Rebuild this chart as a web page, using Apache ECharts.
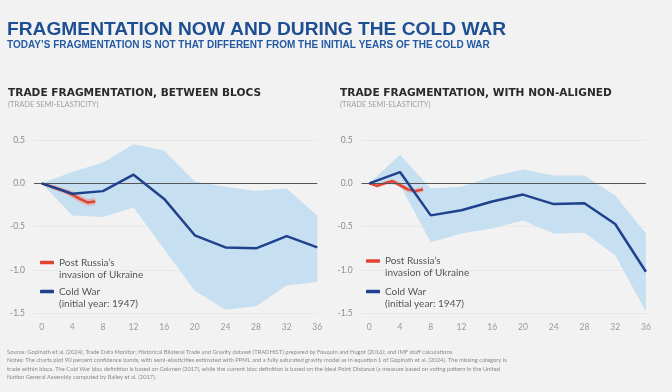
<!DOCTYPE html>
<html lang="en">
<head>
    <meta charset="UTF-8">
    <title>Fragmentation now and during the Cold War</title>
    <script src="https://cdn.jsdelivr.net/npm/echarts@6.0.0/dist/echarts.min.js"></script>
    <style>
        body { margin: 0; padding: 0; background: #f2f2f2; }
        #chart { width: 672px; height: 392px; }
    </style>
</head>
<body>
    <div id="chart"></div>
    <script>
        // years since start (Cold War: 1947 = 0)
        const years = [0, 4, 8, 12, 16, 20, 24, 28, 32, 36];
        const xTicks = [0, 4, 8, 12, 16, 20, 24, 28, 32, 36];

        // between blocs
        const blocsCold  = [0, -0.12, -0.09, 0.10, -0.18, -0.60, -0.74, -0.75, -0.61, -0.74];
        const blocsUpper = [0, 0.13, 0.24, 0.45, 0.38, 0.02, -0.04, -0.09, -0.06, -0.37];
        const blocsLower = [0, -0.37, -0.39, -0.28, -0.76, -1.24, -1.46, -1.42, -1.18, -1.14];

        // with non-aligned
        const nonCold  = [0, 0.13, -0.37, -0.31, -0.21, -0.13, -0.24, -0.23, -0.47, -1.02];
        const nonUpper = [0, 0.33, -0.06, -0.04, 0.08, 0.16, 0.09, 0.09, -0.14, -0.58];
        const nonLower = [0, -0.02, -0.68, -0.58, -0.52, -0.43, -0.58, -0.57, -0.83, -1.48];

        // post Russia's invasion of Ukraine (annual)
        const recentYears = [0, 1, 2, 3, 4, 5, 6, 7];
        const blocsNow   = [0, -0.03, -0.06, -0.09, -0.13, -0.18, -0.22, -0.21];
        const blocsNowHi = [0, -0.01, -0.03, -0.06, -0.09, -0.14, -0.18, -0.17];
        const blocsNowLo = [0, -0.05, -0.09, -0.12, -0.17, -0.22, -0.26, -0.25];
        const nonNow   = [0, -0.03, 0.00, 0.025, -0.02, -0.07, -0.09, -0.07];
        const nonNowHi = [0, -0.01, 0.02, 0.05, 0.01, -0.04, -0.06, -0.04];
        const nonNowLo = [0, -0.05, -0.02, 0.00, -0.05, -0.10, -0.12, -0.10];

        const RED = 'Post Russia\u2019s invasion of Ukraine';
        const BLUE = 'Cold War (initial year: 1947)';
        const legendText = {};
        legendText[RED] = '\nPost Russia\u2019s\ninvasion of Ukraine';
        legendText[BLUE] = '\nCold War\n(initial year: 1947)';

        const chart = echarts.init(document.getElementById('chart'));
        const FONT = 'Lato, "Noto Sans", sans-serif';
        const HEAD = '"Liberation Sans Narrow", "Liberation Sans", Arial, sans-serif';
        const PANEL = '"DejaVu Sans", Lato, sans-serif';

        function band(xs, lo, hi, color, idx) {
            return {
                type: 'custom',
                xAxisIndex: idx,
                yAxisIndex: idx,
                silent: true,
                data: xs.map((x, i) => [x, lo[i], hi[i]]),
                encode: { x: 0, y: [1, 2] },
                renderItem: function (params, api) {
                    if (params.dataIndex !== 0) return null;
                    const top = xs.map((x, i) => api.coord([x, hi[i]]));
                    const bottom = xs.map((x, i) => api.coord([x, lo[i]])).reverse();
                    return {
                        type: 'polygon',
                        shape: { points: top.concat(bottom) },
                        style: { fill: color }
                    };
                }
            };
        }

        function line(name, xs, ys, color, idx, z) {
            return {
                type: 'line',
                name: name,
                xAxisIndex: idx,
                yAxisIndex: idx,
                data: xs.map((x, i) => [x, ys[i]]),
                showSymbol: false,
                color: color,
                lineStyle: { color: color, width: 2.5 },
                z: z
            };
        }

        function zeroLine(idx) {
            return {
                type: 'line',
                xAxisIndex: idx,
                yAxisIndex: idx,
                data: [],
                z: 3,
                markLine: {
                    silent: true,
                    symbol: 'none',
                    label: { show: false },
                    lineStyle: { color: '#555', width: 1, type: 'solid' },
                    data: [{ yAxis: 0 }]
                }
            };
        }

        const grids = [
            { left: 34, top: 140, width: 283.3, height: 173.3 },
            { left: 361.6, top: 140, width: 284.3, height: 173.3 }
        ];

        const xAxes = [0, 1].map(i => ({
            type: 'value',
            gridIndex: i,
            min: -1,
            max: 36,
            axisLine: { show: false },
            axisTick: { show: false },
            splitLine: { show: false },
            axisLabel: {
                customValues: xTicks,
                color: '#9a9a9a',
                fontSize: 8.5,
                fontFamily: FONT,
                margin: 9
            }
        }));

        const yAxes = [0, 1].map(i => ({
            type: 'value',
            gridIndex: i,
            min: -1.5,
            max: 0.5,
            interval: 0.5,
            axisLine: { show: false },
            axisTick: { show: false },
            splitLine: { lineStyle: { color: '#e3e3e3', width: 0.8 } },
            axisLabel: {
                color: '#8c8c8c',
                fontSize: 8.5,
                fontFamily: FONT,
                margin: 9,
                formatter: v => v.toFixed(1)
            }
        }));

        function legend(name, left, top) {
            return {
                data: [name],
                left: left,
                top: top,
                padding: 0,
                orient: 'vertical',
                icon: 'roundRect',
                itemWidth: 14,
                itemHeight: 3.5,
                selectedMode: false,
                formatter: n => legendText[n],
                textStyle: { color: '#555', fontSize: 10, lineHeight: 12, fontFamily: FONT }
            };
        }

        const footer = [
            'Source: Gopinath et al. (2024), Trade Data Monitor; Historical Bilateral Trade and Gravity dataset (TRADHIST) prepared by Fouquin and Hugot (2016); and IMF staff calculations.',
            'Notes: The charts plot 90 percent confidence bands, with semi-elasticities estimated with PPML and a fully saturated gravity model as in equation 1 of Gopinath et al. (2024). The missing category is',
            'trade within blocs. The Cold War bloc definition is based on Gokmen (2017), while the current bloc definition is based on the Ideal Point Distance (a measure based on voting pattern in the United',
            'Nation General Assembly computed by Bailey et al. (2017).'
        ].join('\n');

        const option = {
            backgroundColor: '#f2f2f2',
            animation: false,
            title: [
                {
                    text: 'FRAGMENTATION NOW AND DURING THE COLD WAR',
                    left: 7, top: 20.5, padding: 0,
                    textStyle: { color: '#1d4f92', fontSize: 19.2, fontWeight: 'bold', fontFamily: HEAD }
                },
                {
                    text: 'TODAY\u2019S FRAGMENTATION IS NOT THAT DIFFERENT FROM THE INITIAL YEARS OF THE COLD WAR',
                    left: 7, top: 40, padding: 0,
                    textStyle: { color: '#245aa3', fontSize: 10, fontWeight: 'bold', fontFamily: HEAD }
                },
                {
                    text: 'TRADE FRAGMENTATION, BETWEEN BLOCS',
                    left: 8, top: 88, padding: 0,
                    textStyle: { color: '#2a2a2a', fontSize: 10.6, fontWeight: 'bold', fontFamily: PANEL }
                },
                {
                    text: 'TRADE FRAGMENTATION, WITH NON-ALIGNED',
                    left: 340, top: 88, padding: 0,
                    textStyle: { color: '#2a2a2a', fontSize: 10.6, fontWeight: 'bold', fontFamily: PANEL }
                },
                {
                    text: '(TRADE SEMI-ELASTICITY)',
                    left: 8, top: 100.5, padding: 0,
                    textStyle: { color: '#a0a0a0', fontSize: 7.5, fontWeight: 'normal', fontFamily: FONT }
                },
                {
                    text: '(TRADE SEMI-ELASTICITY)',
                    left: 340, top: 100.5, padding: 0,
                    textStyle: { color: '#a0a0a0', fontSize: 7.5, fontWeight: 'normal', fontFamily: FONT }
                },
                {
                    text: footer,
                    left: 7, top: 347.4, padding: 0,
                    textStyle: { color: '#8a8a8a', fontSize: 5.8, lineHeight: 8.5, fontWeight: 'normal', fontFamily: FONT }
                }
            ],
            legend: [
                legend(RED, 40, 244.5),
                legend(BLUE, 40, 273.5),
                legend(RED, 366, 243),
                legend(BLUE, 366, 273.5)
            ],
            grid: grids,
            xAxis: xAxes,
            yAxis: yAxes,
            series: [
                band(years, blocsLower, blocsUpper, '#c6dff1', 0),
                zeroLine(0),
                band(recentYears, blocsNowLo, blocsNowHi, 'rgba(232,150,140,0.55)', 0),
                line(RED, recentYears, blocsNow, '#e0432f', 0, 4),
                line(BLUE, years, blocsCold, '#20418c', 0, 5),

                band(years, nonLower, nonUpper, '#c6dff1', 1),
                zeroLine(1),
                band(recentYears, nonNowLo, nonNowHi, 'rgba(232,150,140,0.55)', 1),
                line(RED, recentYears, nonNow, '#e0432f', 1, 4),
                line(BLUE, years, nonCold, '#20418c', 1, 5)
            ]
        };

        chart.setOption(option);
    </script>
</body>
</html>
